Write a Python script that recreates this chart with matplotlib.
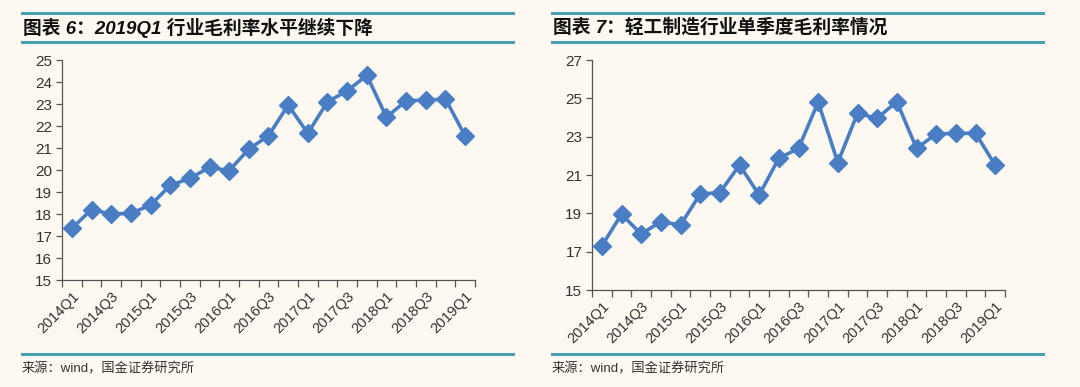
import matplotlib
matplotlib.use("Agg")
import matplotlib.pyplot as plt
from matplotlib.lines import Line2D

plt.rcParams['font.family'] = ['Liberation Sans', 'Noto Sans CJK SC', 'DejaVu Sans']

quarters = [f"{y}Q{q}" for y in range(2014, 2019) for q in (1, 2, 3, 4)] + ["2019Q1"]
tick_labels = quarters[::2]

industry_margin = [17.35, 18.2, 18.0, 18.03, 18.4, 19.3, 19.62, 20.12, 19.97, 20.95, 21.56,
                   22.95, 21.67, 23.1, 23.6, 24.3, 22.4, 23.15, 23.18, 23.22, 21.55]
light_margin = [17.3, 18.95, 17.92, 18.57, 18.39, 20.01, 20.08, 21.52, 19.96, 21.87, 22.39,
                24.8, 21.65, 24.22, 23.96, 24.83, 22.39, 23.14, 23.17, 23.18, 21.52]

title_left = "图表 6：2019Q1 行业毛利率水平继续下降"
title_right = "图表 7：轻工制造行业单季度毛利率情况"
source = "来源：wind，国金证券研究所"

W, H = 1080, 387
BG = "#FDF9F1"
LINE = "#4A7EC4"
TEAL = "#4A9FB3"

fig = plt.figure(figsize=(W / 100, H / 100), dpi=100, facecolor=BG)


def px_axes(x0, y_top, x1, y_bot):
    return fig.add_axes([x0 / W, 1 - y_bot / H, (x1 - x0) / W, (y_bot - y_top) / H])


def hline(x0, x1, y):
    fig.add_artist(Line2D([x0 / W, x1 / W], [1 - y / H, 1 - y / H], color=TEAL, lw=2.2))


def draw(ax, values, ylim, yticks):
    ax.set_facecolor(BG)
    xs = list(range(len(quarters)))
    ax.plot(xs, values, color=LINE, lw=2.6, marker="D", markersize=9.5,
            markerfacecolor=LINE, markeredgecolor=LINE, zorder=3)
    ax.set_xlim(-0.5, len(quarters) - 0.5)
    ax.set_ylim(*ylim)
    ax.set_yticks(yticks)
    ax.set_xticks(xs[::2])
    ax.set_xticklabels(tick_labels, rotation=45, ha="right", va="top",
                       rotation_mode="anchor", fontsize=10.5, color="#333333")
    ax.set_xticks([i - 0.5 for i in range(len(quarters) + 1)], minor=True)
    ax.tick_params(axis="x", which="major", length=0, pad=7)
    ax.tick_params(axis="x", which="minor", length=5, width=0.9, color="#555555", direction="out")
    ax.tick_params(axis="y", length=4, width=0.9, color="#555555", labelsize=11,
                   labelcolor="#333333", pad=3)
    for s in ("top", "right"):
        ax.spines[s].set_visible(False)
    for s in ("left", "bottom"):
        ax.spines[s].set_color("#555555")
        ax.spines[s].set_linewidth(0.9)


ax1 = px_axes(62, 60, 475, 280)
draw(ax1, industry_margin, (15, 25), list(range(15, 26)))
ax2 = px_axes(592, 60, 1005, 290)
draw(ax2, light_margin, (15, 27), list(range(15, 28, 2)))

# header / footer rules
hline(22, 513, 13)
hline(22, 513, 42)
hline(22, 513, 354)
hline(552, 1043, 13)
hline(552, 1043, 42)
hline(552, 1043, 354)

title_font = ['Liberation Sans', 'Noto Sans CJK SC']
fig.text(23 / W, 1 - 27.5 / H, title_left, fontsize=13.5, fontweight="bold", style="italic",
         family=title_font, va="center", ha="left", color="#111111")
fig.text(553 / W, 1 - 27.5 / H, title_right, fontsize=13.5, fontweight="bold", style="italic",
         family=title_font, va="center", ha="left", color="#111111")
fig.text(22 / W, 1 - 369 / H, source, fontsize=9.5, family=['Liberation Sans', 'Noto Sans CJK SC'],
         va="center", ha="left", color="#333333")
fig.text(552 / W, 1 - 369 / H, source, fontsize=9.5, family=['Liberation Sans', 'Noto Sans CJK SC'],
         va="center", ha="left", color="#333333")

fig.savefig("out.png", dpi=100, facecolor=BG)
